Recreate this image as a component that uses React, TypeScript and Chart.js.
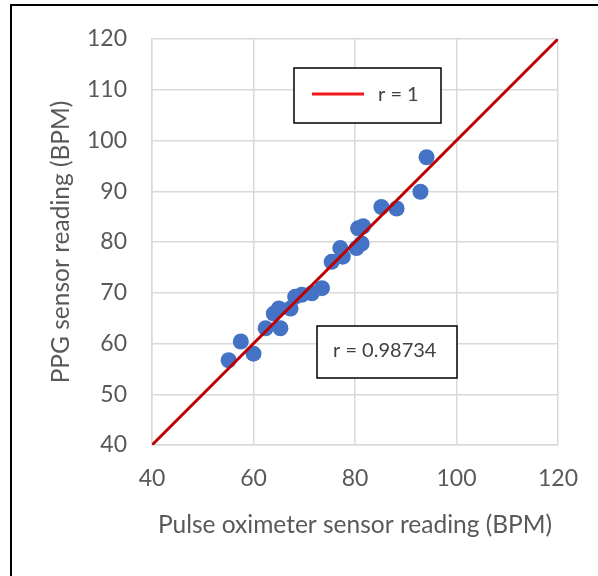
import React, { useEffect, useRef } from "react";
import { Chart, registerables } from "chart.js";

Chart.register(...registerables);

// Data
const pulseOximeter = [55.1, 57.5, 60, 62.4, 64, 65, 65.3, 67.3, 68.2, 69.5, 71.5, 73.5, 75.4, 77.1, 77.6, 80.3, 81.3, 80.6, 81.6, 85.2, 88.2, 92.9, 94.1];
const ppgSensor = [56.7, 60.4, 58, 63, 65.9, 66.9, 63, 66.9, 69.2, 69.6, 69.9, 70.9, 76.1, 78.8, 77.1, 78.8, 79.7, 82.7, 83.1, 86.9, 86.6, 89.9, 96.7];
const identityX = [40, 120];
const identityY = [40, 120];
const identityLabel = "r = 1";
const correlationText = "r = 0.98734";
const xTitle = "Pulse oximeter sensor reading (BPM)";
const yTitle = "PPG sensor reading (BPM)";

const FONT = "Lato, 'DejaVu Sans', sans-serif";
const TEXT = "#595959";
const GRID = "#d9d9d9";

const boxesPlugin = {
  id: "boxes",
  afterDraw(chart: any) {
    const ctx = chart.ctx;
    ctx.save();
    // Legend box
    const ds = chart.data.datasets[0];
    ctx.fillStyle = "#ffffff";
    ctx.fillRect(294, 68, 147, 55);
    ctx.strokeStyle = "#000000";
    ctx.lineWidth = 1.5;
    ctx.strokeRect(294, 68, 147, 55);
    ctx.strokeStyle = "#f01818";
    ctx.lineWidth = 3;
    ctx.beginPath();
    ctx.moveTo(312, 94);
    ctx.lineTo(364, 94);
    ctx.stroke();
    ctx.fillStyle = "#404040";
    ctx.font = `20px ${FONT}`;
    ctx.textBaseline = "middle";
    ctx.textAlign = "left";
    ctx.fillText(ds.label, 378, 95);
    // Correlation box
    ctx.fillStyle = "#ffffff";
    ctx.fillRect(317, 326, 140, 52);
    ctx.strokeStyle = "#000000";
    ctx.lineWidth = 1.5;
    ctx.strokeRect(317, 326, 140, 52);
    ctx.fillStyle = "#404040";
    ctx.fillText(correlationText, 333, 351);
    ctx.restore();
  },
};

export default function App() {
  const ref = useRef<HTMLCanvasElement | null>(null);
  useEffect(() => {
    if (!ref.current) return;
    const chart = new Chart(ref.current, {
      type: "scatter",
      data: {
        datasets: [
          {
            type: "line",
            label: identityLabel,
            data: identityX.map((x, i) => ({ x, y: identityY[i] })),
            borderColor: "#c00000",
            borderWidth: 3,
            pointRadius: 0,
            fill: false,
          },
          {
            label: "Readings",
            data: pulseOximeter.map((x, i) => ({ x, y: ppgSensor[i] })),
            backgroundColor: "#4472c4",
            borderColor: "#4472c4",
            borderWidth: 0,
            pointRadius: 8,
          },
        ],
      },
      options: {
        animation: false,
        responsive: false,
        layout: { padding: { top: 39, right: 40, left: 0, bottom: 0 } },
        plugins: { legend: { display: false }, tooltip: { enabled: false } },
        scales: {
          x: {
            type: "linear",
            min: 40,
            max: 120,
            ticks: { stepSize: 20, color: TEXT, font: { family: FONT, size: 23 }, padding: 20 },
            grid: { color: GRID, lineWidth: 1.5, drawTicks: false },
            border: { color: GRID, width: 1.5 },
            title: { display: true, text: xTitle, color: TEXT, font: { family: FONT, size: 24.5 }, padding: { top: 0, bottom: 36 } },
            afterFit: (s: any) => { s.height = 131; },
          },
          y: {
            type: "linear",
            min: 40,
            max: 120,
            ticks: { stepSize: 10, color: TEXT, font: { family: FONT, size: 23 }, padding: 25 },
            grid: { color: GRID, lineWidth: 1.5, drawTicks: false },
            border: { color: GRID, width: 1.5 },
            title: { display: true, text: yTitle, color: TEXT, font: { family: FONT, size: 24.5 }, padding: { top: 46, bottom: 0 } },
            afterFit: (s: any) => { s.width = 152; },
          },
        },
      },
      plugins: [boxesPlugin],
    } as any);
    return () => chart.destroy();
  }, []);

  return (
    <div style={{ position: "fixed", left: 0, top: 0, width: 598, height: 576, overflow: "hidden", background: "#fff" }}>
      <div style={{ position: "absolute", left: 10, top: 4, width: 700, height: 700, border: "2px solid #000" }} />
      <canvas ref={ref} width={598} height={576} style={{ position: "absolute", left: 0, top: 0, width: 598, height: 576 }} />
    </div>
  );
}
